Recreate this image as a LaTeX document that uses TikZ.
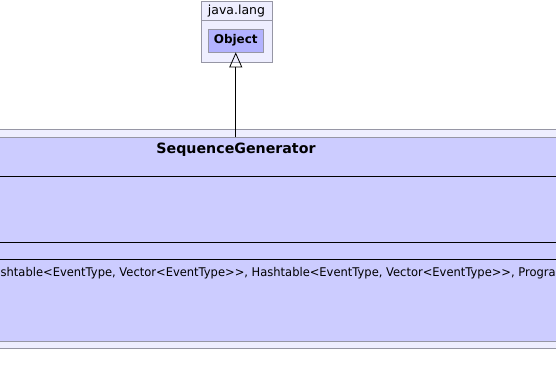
\documentclass[tikz,border=0pt]{standalone}
\usepackage{fontspec}
\usepackage{graphicx}
\setmainfont{DejaVu Sans}
\usetikzlibrary{arrows.meta}
\definecolor{pkgfill}{RGB}{238,238,255}
\definecolor{clsfill}{RGB}{204,204,255}
\definecolor{objfill}{RGB}{178,178,255}
\definecolor{rim}{RGB}{150,150,165}
\tikzset{
  pkgbox/.style={draw=rim, fill=pkgfill, line width=0.8pt},
  clsbox/.style={draw=rim, fill=clsfill, line width=0.8pt},
  objbox/.style={draw=rim, fill=objfill, line width=0.8pt},
  divider/.style={draw=black, line width=0.8pt},
  extends/.style={draw=black, line width=0.8pt, -{Triangle[open, length=15pt, width=13pt]}}
}
\begin{document}
\begin{tikzpicture}[x=1pt, y=-1pt]
\useasboundingbox (0,0) rectangle (556,387);
\fill[white] (0,0) rectangle (556,387);
\begin{scope}
\clip (0,0) rectangle (556,387);
% package java.lang with class Object
\draw[pkgbox] (201.5,1.5) rectangle (272,62);
\draw[rim, line width=0.8pt] (201.5,20) -- (272,20);
\node (jl) at (236.5,11) {\fontsize{12.5}{14}\selectfont java.lang};
\node[objbox, minimum width=54.5pt, minimum height=23pt, inner sep=0pt] (obj) at (235.75,40.5)
  {\fontsize{12}{14}\selectfont\bfseries Object};
% enclosing package with class SequenceGenerator
\draw[pkgbox] (-3,129) rectangle (559,348.5);
\node[clsbox, minimum width=562pt, minimum height=203pt, inner sep=0pt, anchor=north west] (seq) at (-3,137.5) {};
\draw[divider] (-3,176) -- (559,176);
\draw[divider] (-3,242.5) -- (559,242.5);
\draw[divider] (-3,259) -- (559,259);
\node (title) at (236,150) {\fontsize{14.2}{17}\selectfont\bfseries SequenceGenerator};
\node[anchor=west, inner sep=0pt] (ctor) at (0.5,273)
  {\resizebox{555pt}{\height}{\fontsize{12}{14}\selectfont shtable<EventType, Vector<EventType>{}>, Hashtable<EventType, Vector<EventType>{}>, Progra}};
% generalization
\draw[extends] (seq.north -| obj.south) -- (obj.south);
\end{scope}
\end{tikzpicture}
\end{document}
